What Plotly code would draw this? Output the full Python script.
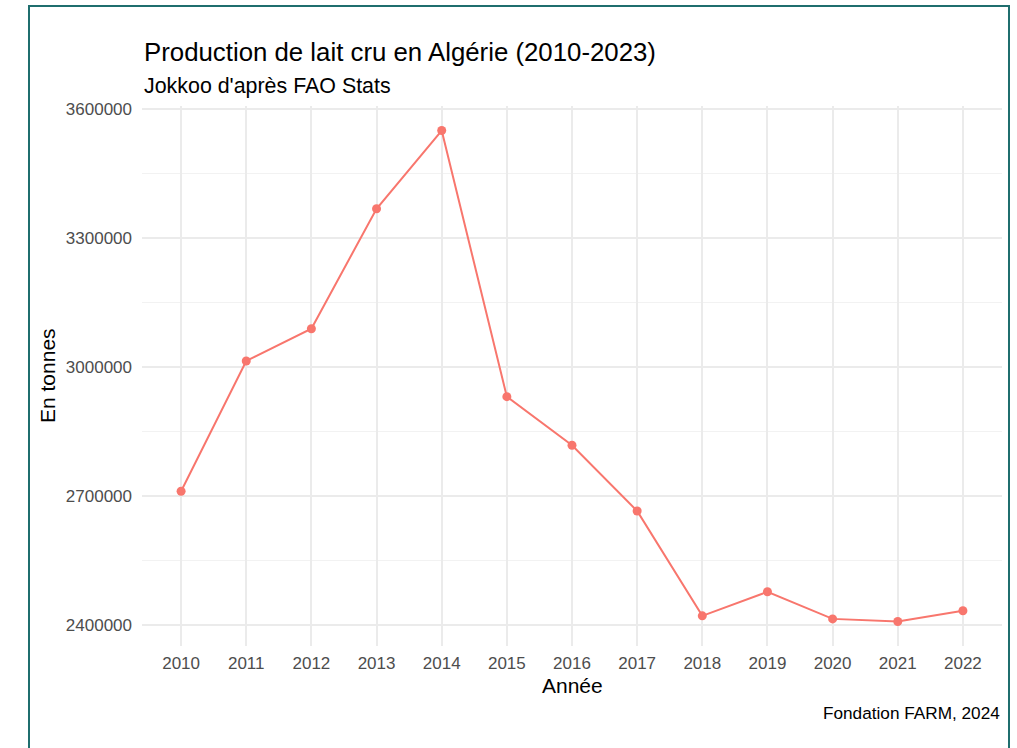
import plotly.graph_objects as go

years = [2010, 2011, 2012, 2013, 2014, 2015, 2016, 2017, 2018, 2019, 2020, 2021, 2022]
production = [2712000, 3015000, 3090000, 3369000, 3551000, 2932000, 2819000,
              2666000, 2422000, 2478000, 2415000, 2409000, 2434000]
y_ticks = [2400000, 2700000, 3000000, 3300000, 3600000]
y_tick_labels = ["2400000", "2700000", "3000000", "3300000", "3600000"]

title = "Production de lait cru en Algérie (2010-2023)"
subtitle = "Jokkoo d'après FAO Stats"
caption = "Fondation FARM, 2024"
x_title = "Année"
y_title = "En tonnes"

W, H = 1017, 748
L, R, T, B = 142, 1002, 106, 646  # plot area in pixels

def px(x):
    return (x - L) / (R - L)

def py(y):
    return (B - y) / (B - T)

FONT = "Liberation Sans, Arial, sans-serif"
line_color = "#F8766D"

fig = go.Figure()
fig.add_trace(go.Scatter(
    x=years, y=production, mode="lines+markers",
    line=dict(color=line_color, width=2),
    marker=dict(color=line_color, size=9),
    showlegend=False,
))

ymin, ymax = min(production), max(production)
pad_y = 0.05 * (ymax - ymin)

fig.update_layout(
    width=W, height=H,
    margin=dict(l=L, r=W - R, t=T, b=H - B),
    paper_bgcolor="white", plot_bgcolor="white",
    font=dict(family=FONT),
    xaxis=dict(
        range=[years[0] - 0.6, years[-1] + 0.6],
        tickvals=years, ticktext=[str(y) for y in years],
        showgrid=True, gridcolor="#ebebeb", gridwidth=1.6,
        zeroline=False, showline=False, ticks="",
        ticklabelstandoff=5,
        tickfont=dict(size=17, color="#4d4d4d", family=FONT),
    ),
    yaxis=dict(
        range=[ymin - pad_y, ymax + pad_y],
        tickvals=y_ticks, ticktext=y_tick_labels,
        showgrid=True, gridcolor="#ebebeb", gridwidth=1.6,
        zeroline=False, showline=False, ticks="",
        ticklabelstandoff=9,
        tickfont=dict(size=17, color="#4d4d4d", family=FONT),
        minor=dict(tick0=2250000, dtick=300000, showgrid=True,
                   gridcolor="#f2f2f2", gridwidth=1, ticks=""),
    ),
    annotations=[
        dict(text=title, x=px(142), y=py(52), xref="paper", yref="paper",
             xanchor="left", yanchor="middle", showarrow=False,
             font=dict(size=25.8, color="black", family=FONT)),
        dict(text=subtitle, x=px(142), y=py(86), xref="paper", yref="paper",
             xanchor="left", yanchor="middle", showarrow=False,
             font=dict(size=21.4, color="black", family=FONT)),
        dict(text=caption, x=px(1002), y=py(713), xref="paper", yref="paper",
             xanchor="right", yanchor="middle", showarrow=False,
             font=dict(size=17.2, color="black", family=FONT)),
        dict(text=x_title, x=0.5, y=py(686), xref="paper", yref="paper",
             xanchor="center", yanchor="middle", showarrow=False,
             font=dict(size=21, color="black", family=FONT)),
        dict(text=y_title, x=px(47), y=py(376), xref="paper", yref="paper",
             xanchor="center", yanchor="middle", showarrow=False, textangle=-90,
             font=dict(size=21, color="black", family=FONT)),
    ],
    shapes=[
        dict(type="rect", xref="paper", yref="paper",
             x0=px(29), x1=px(1009), y0=py(770), y1=py(6),
             line=dict(color="#1f6e6e", width=2), fillcolor="rgba(0,0,0,0)",
             layer="above"),
    ],
)

fig.write_html(
    "out.html",
    config={"displayModeBar": False},
    post_script="document.body.style.margin='0';document.body.style.overflow='hidden';",
)
